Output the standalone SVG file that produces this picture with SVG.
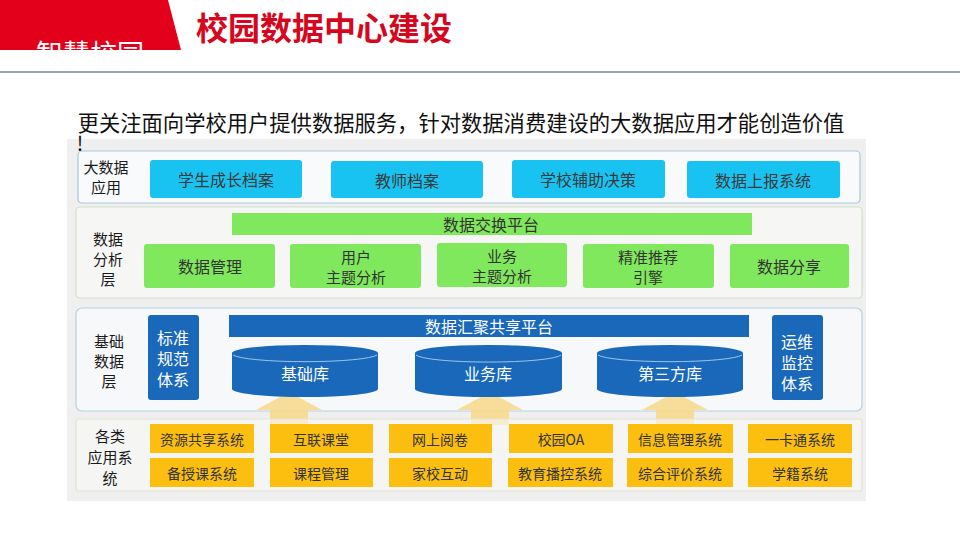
<svg xmlns="http://www.w3.org/2000/svg" width="960" height="540" viewBox="0 0 960 540">
<defs>
<style>
text{font-family:"Microsoft YaHei","Noto Sans CJK SC",sans-serif;text-anchor:middle;dominant-baseline:central}
.lbl{font-size:15px;fill:#1a1a1a}
.cy{fill:#18c3f1}
.cyt{font-size:16px;fill:#3a3a3a}
.gr{fill:#80e85c}
.grt{font-size:16px;fill:#333}
.grt2{font-size:15px;fill:#333}
.bl{fill:#1a68ba}
.wt{font-size:16px;fill:#fff}
.yl{fill:#fdbf0f}
.ylt{font-size:14px;fill:#333}
.arr{fill:#f9d98a;opacity:0.85}
</style>
<clipPath id="hdr"><rect x="0" y="0" width="200" height="50"/></clipPath>
</defs>
<rect width="960" height="540" fill="#ffffff"/>
<g id="header">
<polygon points="0,0 168,0 181,50 0,50" fill="#e2001a"/>
<text x="90" y="52" clip-path="url(#hdr)" style="font-size:27px;fill:#ffffff">智慧校园</text>
<text x="324" y="26" style="font-size:32px;font-weight:bold;fill:#d5061d">校园数据中心建设</text>
<line x1="0" y1="72" x2="960" y2="72" stroke="#6c8892" stroke-width="1.5"/>
</g>
<text x="461" y="121" style="font-size:21.3px;fill:#111">更关注面向学校用户提供数据服务，针对数据消费建设的大数据应用才能创造价值</text>
<rect x="67" y="139" width="799" height="362" fill="#efefef"/>

<g id="layer-app">
<rect x="78" y="151" width="782" height="52" rx="4" fill="#f8fafb" stroke="#a9c9d9" stroke-width="1.2"/>
<text class="lbl" x="106" y="166">大数据</text>
<text class="lbl" x="106" y="186">应用</text>
<g id="n-xscz"><rect class="cy" x="150" y="160" width="152" height="38" rx="3"/><text class="cyt" x="226" y="179">学生成长档案</text></g>
<g id="n-jsda"><rect class="cy" x="331" y="161" width="152" height="37" rx="3"/><text class="cyt" x="407" y="180">教师档案</text></g>
<g id="n-xxfz"><rect class="cy" x="512" y="160" width="153" height="38" rx="3"/><text class="cyt" x="588" y="179">学校辅助决策</text></g>
<g id="n-sjsb"><rect class="cy" x="687" y="161" width="153" height="37" rx="3"/><text class="cyt" x="763" y="180">数据上报系统</text></g>
</g>
<text x="80" y="142" style="font-size:20px;fill:#111">!</text>

<g id="layer-analysis">
<rect x="76" y="207" width="786" height="91" rx="4" fill="#f6f7f5" stroke="#d2dfcc" stroke-width="1.2"/>
<text class="lbl" x="108" y="238">数据</text>
<text class="lbl" x="108" y="258">分析</text>
<text class="lbl" x="108" y="278">层</text>
<g id="n-sjjh"><rect class="gr" x="232" y="213" width="520" height="22"/><text class="grt" x="491" y="224">数据交换平台</text></g>
<g id="n-sjgl"><rect class="gr" x="144" y="244" width="131" height="44" rx="3"/><text class="grt" x="210" y="266">数据管理</text></g>
<g id="n-yhzt"><rect class="gr" x="290" y="244" width="131" height="44" rx="3"/><text class="grt2" x="356" y="256">用户</text><text class="grt2" x="356" y="276">主题分析</text></g>
<g id="n-ywzt"><rect class="gr" x="437" y="243" width="130" height="44" rx="3"/><text class="grt2" x="502" y="255">业务</text><text class="grt2" x="502" y="275">主题分析</text></g>
<g id="n-jztj"><rect class="gr" x="583" y="244" width="131" height="44" rx="3"/><text class="grt2" x="648" y="256">精准推荐</text><text class="grt2" x="648" y="276">引擎</text></g>
<g id="n-sjfx"><rect class="gr" x="730" y="244" width="119" height="44" rx="3"/><text class="grt" x="789" y="266">数据分享</text></g>
</g>

<g id="layer-base">
<rect x="76" y="308" width="786" height="103" rx="6" fill="#f6f8fa" stroke="#b8d2e2" stroke-width="1.2"/>
<text class="lbl" x="109" y="340">基础</text>
<text class="lbl" x="109" y="360">数据</text>
<text class="lbl" x="109" y="380">层</text>
<g id="n-bzgf"><rect class="bl" x="148" y="315" width="51" height="85" rx="3"/><text class="wt" x="173" y="337">标准</text><text class="wt" x="173" y="358">规范</text><text class="wt" x="173" y="379">体系</text></g>
<g id="n-ywjk"><rect class="bl" x="772" y="315" width="51" height="85" rx="3"/><text class="wt" x="797" y="341">运维</text><text class="wt" x="797" y="362">监控</text><text class="wt" x="797" y="383">体系</text></g>
<g id="n-sjhj"><rect class="bl" x="229" y="315" width="520" height="22"/><text class="wt" x="489" y="326">数据汇聚共享平台</text></g>
</g>

<g id="connectors">
<g class="arr">
<polygon points="289,392 322,410 308,410 308,425 270,425 270,410 256,410"/>
<polygon points="490,392 523,410 509,410 509,425 471,425 471,410 457,410"/>
<polygon points="675,392 708,410 694,410 694,425 656,425 656,410 642,410"/>
</g>
</g>

<g id="n-jck">
<path class="bl" d="M232,353 A73,8 0 0 1 378,353 L378,389 A73,8 0 0 1 232,389 Z"/>
<path d="M233,355 A73,8 0 0 0 377,355" fill="none" stroke="#9cc4e8" stroke-width="1"/>
<text class="wt" x="305" y="373">基础库</text>
</g>
<g id="n-ywk">
<path class="bl" d="M415,353 A73,8 0 0 1 562,353 L562,389 A73,8 0 0 1 415,389 Z"/>
<path d="M416,355 A73,8 0 0 0 561,355" fill="none" stroke="#9cc4e8" stroke-width="1"/>
<text class="wt" x="488" y="373">业务库</text>
</g>
<g id="n-dsfk">
<path class="bl" d="M597,353 A73,8 0 0 1 743,353 L743,389 A73,8 0 0 1 597,389 Z"/>
<path d="M598,355 A73,8 0 0 0 742,355" fill="none" stroke="#9cc4e8" stroke-width="1"/>
<text class="wt" x="670" y="373">第三方库</text>
</g>

<g id="layer-systems">
<rect x="76" y="419" width="786" height="72" rx="3" fill="#f9f9f7" stroke="#e6e2cf" stroke-width="1.2" fill-opacity="0.6"/>
<text class="lbl" x="110" y="435">各类</text>
<text class="lbl" x="110" y="456">应用系</text>
<text class="lbl" x="110" y="477">统</text>
<g id="n-zygx"><rect class="yl" x="150" y="424" width="104" height="29"/><text class="ylt" x="202" y="439">资源共享系统</text></g>
<g id="n-hlkt"><rect class="yl" x="270" y="424" width="103" height="29"/><text class="ylt" x="321" y="439">互联课堂</text></g>
<g id="n-wsyj"><rect class="yl" x="389" y="424" width="103" height="29"/><text class="ylt" x="440" y="439">网上阅卷</text></g>
<g id="n-xyoa"><rect class="yl" x="509" y="424" width="104" height="29"/><text class="ylt" x="561" y="439">校园OA</text></g>
<g id="n-xxgl"><rect class="yl" x="628" y="424" width="105" height="29"/><text class="ylt" x="680" y="439">信息管理系统</text></g>
<g id="n-ykt"><rect class="yl" x="748" y="424" width="104" height="29"/><text class="ylt" x="800" y="439">一卡通系统</text></g>
<g id="n-bskxt"><rect class="yl" x="150" y="458" width="104" height="29"/><text class="ylt" x="202" y="473">备授课系统</text></g>
<g id="n-kcgl"><rect class="yl" x="270" y="458" width="103" height="29"/><text class="ylt" x="321" y="473">课程管理</text></g>
<g id="n-jxhd"><rect class="yl" x="389" y="458" width="103" height="29"/><text class="ylt" x="440" y="473">家校互动</text></g>
<g id="n-jybk"><rect class="yl" x="508" y="458" width="105" height="29"/><text class="ylt" x="560" y="473">教育播控系统</text></g>
<g id="n-zhpj"><rect class="yl" x="627" y="458" width="106" height="29"/><text class="ylt" x="680" y="473">综合评价系统</text></g>
<g id="n-xjxt"><rect class="yl" x="748" y="458" width="104" height="29"/><text class="ylt" x="800" y="473">学籍系统</text></g>
</g>
</svg>
